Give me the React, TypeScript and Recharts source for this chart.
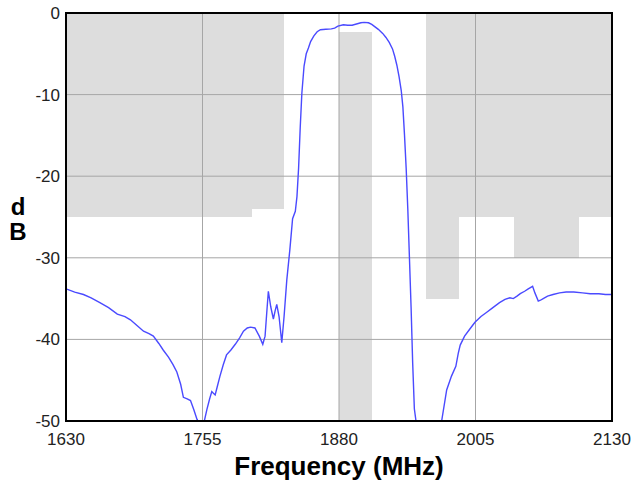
import { LineChart, Line, XAxis, YAxis, CartesianGrid, ReferenceArea, Customized } from 'recharts';

// measured response, MHz / dB
const freq = [
  1630, 1638, 1646, 1653, 1661, 1669, 1677, 1684, 1689, 1695, 1701, 1706, 1710, 1715, 1719, 1724, 1728, 1731.5,
  1735, 1737.5, 1741, 1744, 1747, 1750, 1753, 1756, 1759, 1761.5, 1763.5, 1765, 1766.6, 1768.5, 1771, 1774, 1777,
  1781, 1785, 1789, 1792.5, 1796, 1799, 1803, 1807, 1810.2, 1812.3, 1813.8, 1815.3, 1817.5, 1819.9, 1821.5, 1823,
  1825.1, 1827.6, 1829.7, 1832.2, 1835, 1837.5, 1840, 1841.5, 1843, 1844.5, 1846, 1848, 1850, 1852, 1854, 1857,
  1860, 1863, 1868, 1873, 1876, 1879, 1884, 1888, 1892, 1896, 1900, 1903, 1907, 1910, 1913, 1916, 1920, 1923,
  1926, 1929, 1931, 1933, 1935, 1937, 1938.5, 1940, 1941.5, 1943, 1944.5, 1946, 1947.5, 1949, 1951, 1953, 1962,
  1971, 1974, 1978.6, 1983, 1987, 1989.2, 1991, 1995, 2000, 2004.5, 2010, 2015, 2020, 2027, 2032, 2036.5, 2039.6,
  2043, 2046, 2050, 2053.3, 2057.3, 2059.4, 2062.5, 2064.5, 2067, 2071, 2076, 2082, 2088, 2095, 2103, 2110, 2118,
  2124, 2130,
];
const response = [
  -33.8, -34.2, -34.5, -34.9, -35.5, -36.1, -36.9, -37.2, -37.6, -38.3, -39.0, -39.3, -39.6, -40.5, -41.3, -42.2,
  -43.1, -44.0, -45.5, -47.1, -47.3, -47.5, -48.6, -49.8, -50.6, -50.4, -48.6, -47.3, -46.4, -46.6, -46.8, -45.8,
  -44.5, -43.1, -41.9, -41.3, -40.6, -39.8, -39.0, -38.6, -38.5, -38.6, -39.6, -40.6, -39.6, -36.8, -34.1, -36.0,
  -37.5, -36.5, -35.7, -37.2, -40.4, -37.2, -32.7, -29.0, -25.2, -24.3, -22.5, -19.0, -14.0, -9.8, -6.5, -5.0,
  -4.3, -3.5, -2.8, -2.3, -2.05, -2.0, -1.95, -1.85, -1.6, -1.45, -1.5, -1.5, -1.35, -1.2, -1.15, -1.2, -1.4,
  -1.7, -2.0, -2.5, -3.0, -3.6, -4.4, -5.3, -6.4, -7.8, -9.5, -11.5, -15.0, -19.0, -24.0, -30.0, -36.0, -43.0,
  -48.5, -50.5, -52.5, -56.0, -52.5, -50.0, -46.2, -44.5, -43.3, -41.7, -40.7, -39.6, -38.7, -37.9, -37.2,
  -36.7, -36.2, -35.5, -35.1, -34.9, -35.0, -34.7, -34.4, -34.1, -33.8, -33.5, -34.3, -35.3, -35.2, -35.0,
  -34.7, -34.5, -34.3, -34.2, -34.2, -34.3, -34.4, -34.4, -34.5, -34.5,
];

// spec mask (grey), MHz / dB — rectangles overlap so no seams show
const maskStart = [1630, 1630, 1880, 1960, 1960, 2040];
const maskEnd = [1830, 1800, 1910, 2130, 1990, 2100];
const maskTop = [0, 0, -2.3, 0, 0, 0];
const maskBottom = [-24, -25, -50, -25, -35, -30];

const xTicks = [1630, 1755, 1880, 2005, 2130];
const yTicks = [0, -10, -20, -30, -40, -50];

const data = freq.map((f, i) => ({ f, db: response[i] }));

const font = 'Arial, "Liberation Sans", sans-serif';

const DbLabel = () => (
  <text textAnchor="middle" fontFamily={font} fontWeight="bold" fontSize={24} fill="#000">
    <tspan x={18} y={215}>d</tspan>
    <tspan x={18} y={240}>B</tspan>
  </text>
);

export default function App() {
  return (
    <div style={{ position: 'absolute', left: 0, top: 0, background: '#fff' }}>
      <LineChart width={634} height={485} data={data} margin={{ top: 13, right: 22, bottom: 0, left: 10 }}>
        {maskStart.map((s, i) => (
          <ReferenceArea
            key={i}
            x1={s}
            x2={maskEnd[i]}
            y1={maskBottom[i]}
            y2={maskTop[i]}
            fill="#dddddd"
            fillOpacity={1}
            stroke="none"
            shapeRendering="crispEdges"
            zIndex={-200}
          />
        ))}
        <CartesianGrid stroke="#a6a6a6" strokeWidth={1} />
        <XAxis
          dataKey="f"
          type="number"
          domain={[1630, 2130]}
          ticks={xTicks}
          allowDataOverflow
          axisLine={false}
          tickLine={false}
          tickMargin={6}
          height={64}
          tick={{ fontSize: 17, fill: '#222', fontFamily: font }}
          label={{
            value: 'Frequency (MHz)',
            position: 'insideBottom',
            offset: 10,
            style: { fontSize: 26, fontWeight: 'bold', fill: '#000', fontFamily: font },
          }}
        />
        <YAxis
          type="number"
          domain={[-50, 0]}
          ticks={yTicks}
          allowDataOverflow
          axisLine={false}
          tickLine={false}
          tickMargin={0}
          width={56}
          tick={{ fontSize: 17, fill: '#222', fontFamily: font }}
        />
        <Line
          dataKey="db"
          type="linear"
          stroke="#4a4aff"
          strokeWidth={1.4}
          dot={false}
          activeDot={false}
          isAnimationActive={false}
        />
        <ReferenceArea
          x1={1630}
          x2={2130}
          y1={-50}
          y2={0}
          fill="none"
          stroke="#000"
          strokeWidth={2}
          zIndex={1000}
        />
        <Customized component={DbLabel} />
      </LineChart>
    </div>
  );
}
